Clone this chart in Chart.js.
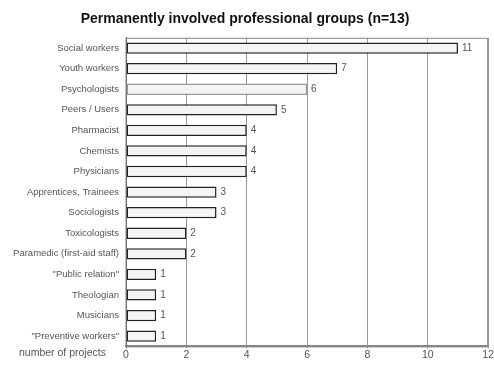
<!DOCTYPE html>
<html>
<head>
<meta charset="utf-8">
<script src="https://cdn.jsdelivr.net/npm/chart.js@4/dist/chart.umd.min.js"></script>
<style>
  html, body { margin: 0; padding: 0; background: #fff; }
  #wrap { width: 494px; height: 369px; }
</style>
</head>
<body>
<div id="wrap"><canvas id="groupsChart"></canvas></div>
<script>
// data
const groups = [
  'Social workers', 'Youth workers', 'Psychologists', 'Peers / Users',
  'Pharmacist', 'Chemists', 'Physicians', 'Apprentices, Trainees',
  'Sociologists', 'Toxicologists', 'Paramedic (first-aid staff)',
  '"Public relation"', 'Theologian', 'Musicians', '"Preventive workers"'
];
const projectCounts = [11, 7, 6, 5, 4, 4, 4, 3, 3, 2, 2, 1, 1, 1, 1];
const xTicks = [0, 2, 4, 6, 8, 10, 12];

const FONT = '"Liberation Sans", Arial, sans-serif';

// value labels + "number of projects" caption
const extrasPlugin = {
    id: 'extras',
    afterDatasetsDraw(chart) {
        const ctx = chart.ctx;
        const meta = chart.getDatasetMeta(0);
        ctx.save();
        ctx.font = '10px ' + FONT;
        ctx.fillStyle = '#555';
        ctx.textBaseline = 'middle';
        ctx.textAlign = 'left';
        meta.data.forEach((bar, i) => {
            ctx.fillText(String(projectCounts[i]), bar.x + 4, bar.y);
        });
        ctx.font = '10.5px ' + FONT;
        ctx.fillText('number of projects', 19, 353);
        ctx.restore();
    }
};

new Chart(document.getElementById('groupsChart').getContext('2d'), {
    type: 'bar',
    data: {
        labels: groups,
        datasets: [{
            data: projectCounts,
            backgroundColor: '#f4f4f4',
            borderColor: groups.map((g, i) => i === 2 ? '#999' : '#222'),
            borderWidth: 1.5,
            borderSkipped: false,
            barPercentage: 0.55,
            categoryPercentage: 1
        }]
    },
    options: {
        indexAxis: 'y',
        responsive: true,
        maintainAspectRatio: false,
        animation: false,
        layout: { padding: { left: 0, right: 4, top: 0, bottom: 8 } },
        scales: {
            x: {
                min: 0,
                max: 12,
                afterBuildTicks: scale => { scale.ticks = xTicks.map(v => ({ value: v })); },
                grid: { color: '#999', lineWidth: 1, drawTicks: true, tickLength: 2 },
                border: { color: '#888', width: 2 },
                ticks: { color: '#555', font: { family: FONT, size: 10.5 }, padding: 0 }
            },
            y: {
                afterFit: scale => { scale.width = 126; },
                grid: { display: false, drawTicks: true, tickLength: 3, offset: true },
                border: { color: '#555', width: 1 },
                ticks: { color: '#555', font: { family: FONT, size: 9.5 }, padding: 4 }
            }
        },
        plugins: {
            legend: { display: false },
            tooltip: { enabled: false },
            title: {
                display: true,
                text: 'Permanently involved professional groups (n=13)',
                color: '#111',
                font: { family: FONT, size: 14, weight: 'bold' },
                padding: { top: 11, bottom: 10 }
            }
        }
    },
    plugins: [extrasPlugin, {
        id: 'frame',
        afterDraw(chart) {
            const a = chart.chartArea, ctx = chart.ctx;
            ctx.save();
            ctx.strokeStyle = '#888';
            ctx.lineWidth = 1;
            ctx.strokeRect(a.left, a.top + 0.5, a.right - a.left - 0.5, a.bottom - a.top);
            ctx.restore();
        }
    }]
});
</script>
</body>
</html>
